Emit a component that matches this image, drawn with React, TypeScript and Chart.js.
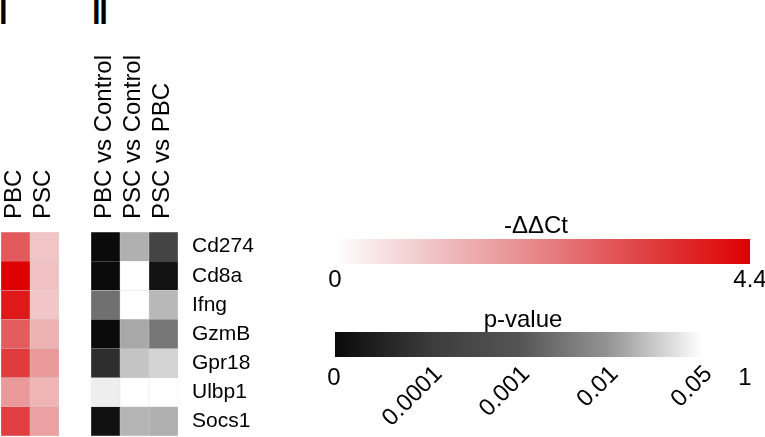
import React, { useEffect, useRef } from 'react';
import { Chart, registerables } from 'chart.js';

Chart.register(...registerables);
Chart.defaults.font.family = "'Liberation Sans', Arial, Helvetica, sans-serif";
Chart.defaults.color = '#000';

// ---------------- data ----------------
const genes = ['Cd274', 'Cd8a', 'Ifng', 'GzmB', 'Gpr18', 'Ulbp1', 'Socs1'];

// panel i : -ΔΔCt
const groupsI = ['PBC', 'PSC'];
const ddctPBC = [2.87, 4.4, 3.97, 2.83, 3.37, 1.8, 3.34];
const ddctPSC = [1.03, 1.1, 0.99, 1.35, 1.8, 1.31, 1.67];

// panel ii : p-values
const comparisonsII = ['PBC vs Control', 'PSC vs Control', 'PSC vs PBC'];
const pPBCvsControl = [1e-6, 1e-6, 0.0049, 1e-6, 7.2e-5, 0.0436, 1.4e-5];
const pPSCvsControl = [0.0205, 0.38, 0.52, 0.0175, 0.028, 0.71, 0.022];
const pPSCvsPBC = [0.00039, 1.6e-5, 0.0234, 0.0059, 0.034, 0.29, 0.0205];

// -ΔΔCt colour bar
const ddctTitle = '-ΔΔCt';
const ddctMin = 0;
const ddctMax = 4.4;
const ddctTickValues = [0, 4.4];
const ddctTickLabels = ['0', '4.4'];
const redStopFrac = [0, 0.25, 0.5, 0.75, 1];
const redStopRGB = [
  [255, 255, 255],
  [240, 192, 194],
  [230, 130, 132],
  [224, 64, 66],
  [222, 0, 0],
];

// p-value colour bar: stops, their place along the bar (bar units), grey level
const pTitle = 'p-value';
const pStops = [0, 0.0001, 0.001, 0.01, 0.05];
const pStopLabels = ['0', '0.0001', '0.001', '0.01', '0.05'];
const pStopPos = [0, 1.03, 1.96, 2.9, 3.9];
const pStopGray = [10, 60, 85, 148, 255];
const pBarEnd = 4;
const pEndLabel = '1';
const pEndPos = 4.37;

// ---------------- colour scales ----------------
const rgb = (c: number[]) => `rgb(${Math.round(c[0])},${Math.round(c[1])},${Math.round(c[2])})`;

function redFor(v: number): string {
  const t = Math.max(0, Math.min(1, (v - ddctMin) / (ddctMax - ddctMin)));
  for (let i = 0; i < redStopFrac.length - 1; i++) {
    if (t <= redStopFrac[i + 1]) {
      const f = (t - redStopFrac[i]) / (redStopFrac[i + 1] - redStopFrac[i]);
      const a = redStopRGB[i], b = redStopRGB[i + 1];
      return rgb([a[0] + (b[0] - a[0]) * f, a[1] + (b[1] - a[1]) * f, a[2] + (b[2] - a[2]) * f]);
    }
  }
  return rgb(redStopRGB[redStopRGB.length - 1]);
}

function grayFor(p: number): string {
  const n = pStops.length;
  if (p >= pStops[n - 1]) return rgb([255, 255, 255]);
  for (let i = 0; i < n - 1; i++) {
    if (p < pStops[i + 1]) {
      const f = (p - pStops[i]) / (pStops[i + 1] - pStops[i]);
      const g = pStopGray[i] + (pStopGray[i + 1] - pStopGray[i]) * f;
      return rgb([g, g, g]);
    }
  }
  return rgb([255, 255, 255]);
}

// ---------------- helpers ----------------
const TOP_AXIS_H = 232;
const noGrid = { display: false, drawTicks: false };
const noBorder = { display: false };
function fix(s: any, w?: number, h?: number) {
  if (w !== undefined) s.width = w;
  if (h !== undefined) s.height = h;
  s.paddingLeft = 0;
  s.paddingRight = 0;
  s.paddingTop = 0;
  s.paddingBottom = 0;
}

function heatmapConfig(cols: string[], colours: string[][], showGenes: boolean, padLeft: number, padRight: number, geneAxisW: number): any {
  return {
    type: 'bar',
    data: {
      labels: genes,
      datasets: cols.map((c, k) => ({
        label: c,
        data: genes.map(() => 1),
        backgroundColor: colours[k],
        borderColor: 'rgba(110,110,110,0.22)',
        borderWidth: 0.5,
        borderSkipped: false,
        barPercentage: 1,
        categoryPercentage: 1,
      })),
    },
    options: {
      indexAxis: 'y',
      animation: false,
      responsive: false,
      maintainAspectRatio: false,
      layout: { padding: { left: padLeft, right: padRight, top: 0, bottom: 1 } },
      plugins: { legend: { display: false }, tooltip: { enabled: false }, title: { display: false } },
      scales: {
        x: { type: 'linear', stacked: true, min: 0, max: cols.length, display: false },
        y: {
          type: 'category',
          stacked: true,
          position: 'right',
          display: showGenes,
          grid: noGrid,
          border: noBorder,
          ticks: { font: { size: 21 }, color: '#000', padding: 14, autoSkip: false },
          afterFit: (s: any) => fix(s, geneAxisW),
        },
        xTop: {
          type: 'category',
          position: 'top',
          labels: cols,
          offset: true,
          grid: noGrid,
          border: noBorder,
          ticks: { font: { size: 24 }, color: '#000', minRotation: 90, maxRotation: 90, padding: 13, labelOffset: 28, autoSkip: false },
          afterFit: (s: any) => fix(s, undefined, TOP_AXIS_H),
        },
      },
    },
  };
}

function ddctBarConfig(): any {
  return {
    type: 'bar',
    data: {
      labels: [''],
      datasets: [{
        data: [[ddctMin, ddctMax]],
        backgroundColor: (ctx: any) => {
          const chart = ctx.chart;
          if (!chart.chartArea) return 'transparent';
          const xs = chart.scales.x;
          const g = chart.ctx.createLinearGradient(xs.getPixelForValue(ddctMin), 0, xs.getPixelForValue(ddctMax), 0);
          redStopFrac.forEach((f, i) => g.addColorStop(f, rgb(redStopRGB[i])));
          return g;
        },
        borderWidth: 0,
        barPercentage: 1,
        categoryPercentage: 1,
      }],
    },
    options: {
      indexAxis: 'y',
      animation: false,
      responsive: false,
      maintainAspectRatio: false,
      layout: { padding: 0 },
      plugins: {
        legend: { display: false },
        tooltip: { enabled: false },
        title: { display: true, text: ddctTitle, color: '#000', font: { size: 24, weight: 'normal', lineHeight: 1 }, padding: { top: 0, bottom: 1 } },
      },
      scales: {
        x: {
          type: 'linear', min: ddctMin, max: ddctMax, bounds: 'data',
          grid: noGrid, border: noBorder,
          afterBuildTicks: (s: any) => { s.ticks = ddctTickValues.map((v) => ({ value: v })); },
          ticks: { callback: (_v: any, i: number) => ddctTickLabels[i], font: { size: 24 }, color: '#000', padding: 2, minRotation: 0, maxRotation: 0, autoSkip: false },
          afterFit: (s: any) => fix(s, undefined, 40),
        },
        y: {
          type: 'category', grid: noGrid, border: noBorder, ticks: { display: false },
          afterFit: (s: any) => fix(s, 35),
        },
        y2: {
          type: 'category', position: 'right', labels: [''], grid: noGrid, border: noBorder, ticks: { display: false },
          afterFit: (s: any) => fix(s, 22),
        },
      },
    },
  };
}

function pBarConfig(): any {
  return {
    type: 'bar',
    data: {
      labels: [''],
      datasets: [{
        data: [[0, pBarEnd]],
        backgroundColor: (ctx: any) => {
          const chart = ctx.chart;
          if (!chart.chartArea) return 'transparent';
          const xs = chart.scales.x;
          const g = chart.ctx.createLinearGradient(xs.getPixelForValue(0), 0, xs.getPixelForValue(pBarEnd), 0);
          pStopGray.forEach((v, i) => g.addColorStop(pStopPos[i] / pBarEnd, rgb([v, v, v])));
          g.addColorStop(1, rgb([255, 255, 255]));
          return g;
        },
        borderWidth: 0,
        barPercentage: 1,
        categoryPercentage: 1,
      }],
    },
    options: {
      indexAxis: 'y',
      animation: false,
      responsive: false,
      maintainAspectRatio: false,
      layout: { padding: { left: 0, right: 0, top: 0, bottom: 80 } },
      plugins: {
        legend: { display: false },
        tooltip: { enabled: false },
        title: { display: true, text: pTitle, color: '#000', font: { size: 24, weight: 'normal', lineHeight: 1 }, padding: { top: 0, bottom: 0 } },
      },
      scales: {
        x: {
          type: 'linear', min: 0, max: pEndPos, bounds: 'data',
          grid: noGrid, border: noBorder,
          afterBuildTicks: (s: any) => { s.ticks = [{ value: pStopPos[0] }, { value: pEndPos }]; },
          ticks: { callback: (_v: any, i: number) => (i === 0 ? pStopLabels[0] : pEndLabel), font: { size: 24 }, color: '#000', mirror: true, padding: -35.5, labelOffset: -1, minRotation: 0, maxRotation: 0, autoSkip: false },
          afterFit: (s: any) => fix(s, undefined, 0),
        },
        xRot: {
          type: 'linear', position: 'bottom', min: 0, max: pEndPos, bounds: 'data',
          grid: noGrid, border: noBorder,
          afterBuildTicks: (s: any) => { s.ticks = pStopPos.slice(1).map((v) => ({ value: v })); },
          ticks: { callback: (_v: any, i: number) => pStopLabels[i + 1], font: { size: 24 }, color: '#000', mirror: true, padding: -23.5, labelOffset: 27, minRotation: 45, maxRotation: 45, autoSkip: false },
          afterFit: (s: any) => fix(s, undefined, 0),
        },
        y: {
          type: 'category', grid: noGrid, border: noBorder, ticks: { display: false },
          afterFit: (s: any) => fix(s, 45),
        },
        y2: {
          type: 'category', position: 'right', labels: [''], grid: noGrid, border: noBorder, ticks: { display: false },
          afterFit: (s: any) => fix(s, 10),
        },
      },
    },
  };
}

function useChart(ref: React.RefObject<HTMLCanvasElement>, make: () => any) {
  useEffect(() => {
    if (!ref.current) return;
    const c = new Chart(ref.current, make());
    return () => c.destroy();
  }, []);
}

export default function App() {
  const aRef = useRef<HTMLCanvasElement>(null);
  const bRef = useRef<HTMLCanvasElement>(null);
  const cRef = useRef<HTMLCanvasElement>(null);
  const dRef = useRef<HTMLCanvasElement>(null);

  useChart(aRef, () => heatmapConfig(groupsI, [ddctPBC.map(redFor), ddctPSC.map(redFor)], false, 1, 21, 0));
  useChart(bRef, () => heatmapConfig(comparisonsII, [pPBCvsControl.map(grayFor), pPSCvsControl.map(grayFor), pPSCvsPBC.map(grayFor)], true, 11, 0, 102));
  useChart(cRef, ddctBarConfig);
  useChart(dRef, pBarConfig);

  const abs = (l: number, t: number): React.CSSProperties => ({ position: 'absolute', left: l, top: t });
  const font = "'Liberation Sans', Arial, Helvetica, sans-serif";

  return (
    <div style={{ position: 'absolute', left: 0, top: 0, width: 765, height: 437, overflow: 'hidden', background: '#fff', fontFamily: font, color: '#000' }}>
      <div style={{ ...abs(-2, -16), fontSize: 48, lineHeight: '48px' }}>i</div>
      <div style={{ ...abs(91, -16), fontSize: 48, lineHeight: '48px', letterSpacing: -3.5 }}>ii</div>
      <canvas ref={aRef} width={80} height={437} style={{ ...abs(0, 0), width: 80, height: 437 }} />
      <canvas ref={bRef} width={200} height={437} style={{ ...abs(80, 0), width: 200, height: 437 }} />
      <canvas ref={cRef} width={472} height={90} style={{ ...abs(300, 214), width: 472, height: 90 }} />
      <canvas ref={dRef} width={466} height={129} style={{ ...abs(290, 308), width: 466, height: 129 }} />
    </div>
  );
}
